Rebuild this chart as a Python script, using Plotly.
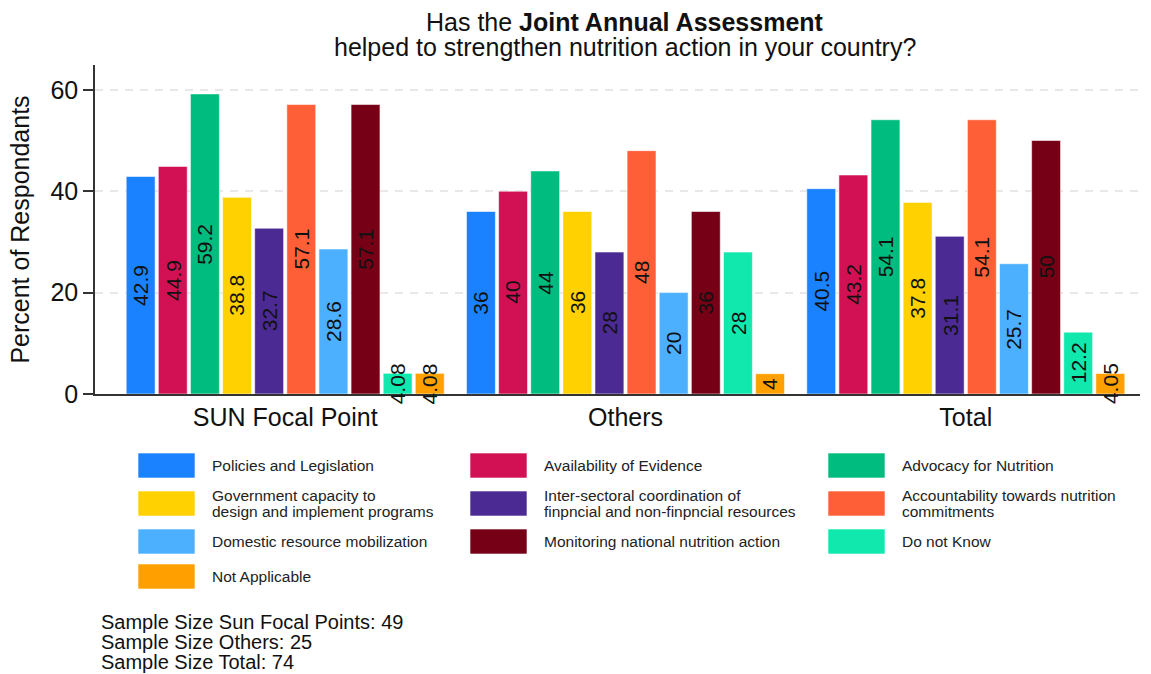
import plotly.graph_objects as go

groups = ["SUN Focal Point", "Others", "Total"]
series = [
    ["Policies and Legislation"],
    ["Availability of Evidence"],
    ["Advocacy for Nutrition"],
    ["Government capacity to", "design and implement programs"],
    ["Inter-sectoral coordination of", "finpncial and non-finpncial resources"],
    ["Accountability towards nutrition", "commitments"],
    ["Domestic resource mobilization"],
    ["Monitoring national nutrition action"],
    ["Do not Know"],
    ["Not Applicable"],
]
colors = ["#1a82ff", "#d21155", "#00bc7e", "#ffd100", "#4c2a93",
          "#ff5f36", "#4cb0ff", "#760016", "#10e8ae", "#ffa000"]

policies = [42.9, 36, 40.5]
evidence = [44.9, 40, 43.2]
advocacy = [59.2, 44, 54.1]
gov_capacity = [38.8, 36, 37.8]
intersectoral = [32.7, 28, 31.1]
accountability = [57.1, 48, 54.1]
domestic = [28.6, 20, 25.7]
monitoring = [57.1, 36, 50]
do_not_know = [4.08, 28, 12.2]
not_applicable = [4.08, 4, 4.05]
values = [policies, evidence, advocacy, gov_capacity, intersectoral,
          accountability, domestic, monitoring, do_not_know, not_applicable]

sample_sizes = [("Sun Focal Points", 49), ("Others", 25), ("Total", 74)]

title_lines = ["Has the <b>Joint Annual Assessment</b>",
               "helped to strengthen nutrition action in your country?"]

BARGAP = 0.056
BARGROUPGAP = 0.1
n = len(series)
slot = (1 - BARGAP) / n

W, H = 1151, 674
L, R, T, B = 95, 11, 65, 280
PW, PH = W - L - R, H - T - B


def px(x):
    return (x - L) / PW


def py(y):
    return (H - B - y) / PH


fig = go.Figure()
gx = list(range(len(groups)))
for i, (name, vals, col) in enumerate(zip(series, values, colors)):
    fig.add_trace(go.Bar(
        x=gx, y=vals, name=" ".join(name),
        marker=dict(color=col, line=dict(color="rgba(255,255,255,0.55)", width=1)),
        showlegend=False,
    ))
    off = -(1 - BARGAP) / 2 + (i + 0.5) * slot
    for g, v in zip(gx, vals):
        fig.add_annotation(
            x=g + off, y=v / 2, xref="x", yref="y",
            text=f"{v:g}", textangle=-90, showarrow=False,
            font=dict(size=21, color="#111"),
        )

# three-column key below the plot
col_x = [138, 470, 828]
row_y = [453, 491, 529, 564]
for i, (lines, col) in enumerate(zip(series, colors)):
    r, c = divmod(i, 3)
    x0, y0 = col_x[c], row_y[r]
    fig.add_shape(type="rect", xref="paper", yref="paper",
                  x0=px(x0), x1=px(x0 + 57), y0=py(y0 + 25), y1=py(y0),
                  fillcolor=col, line=dict(color="rgba(255,255,255,0.6)", width=1))
    yc = y0 + 12.5
    offsets = [0] if len(lines) == 1 else [-8, 8]
    for line, dy in zip(lines, offsets):
        fig.add_annotation(xref="paper", yref="paper",
                           x=px(x0 + 72), y=py(yc + dy),
                           xanchor="left", yanchor="middle", align="left",
                           text=line, showarrow=False,
                           font=dict(size=15.5, color="#222"))

for k, (lab, nval) in enumerate(sample_sizes):
    fig.add_annotation(xref="paper", yref="paper",
                       x=px(99), y=py(622 + 20 * k),
                       xanchor="left", yanchor="middle", showarrow=False,
                       text=f"Sample Size {lab}: {nval}",
                       font=dict(size=20, color="#111"))

for k, line in enumerate(title_lines):
    fig.add_annotation(xref="paper", yref="paper",
                       x=px(625), y=py(22 + 25 * k),
                       xanchor="center", yanchor="middle", showarrow=False,
                       text=line, font=dict(size=25, color="#111"))

fig.update_layout(
    width=W, height=H,
    margin=dict(l=L, r=R, t=T, b=B),
    paper_bgcolor="white", plot_bgcolor="white",
    barmode="group", bargap=BARGAP, bargroupgap=BARGROUPGAP,
    font=dict(family="Liberation Sans, Arial, sans-serif", color="#111"),
    xaxis=dict(
        tickmode="array", tickvals=gx, ticktext=groups,
        range=[-0.559, 2.512], showline=True, linecolor="#333", linewidth=1.5,
        ticks="", tickfont=dict(size=25), showgrid=False, zeroline=False,
    ),
    yaxis=dict(
        range=[0, 64.9], tickvals=[0, 20, 40, 60],
        showline=True, linecolor="#333", linewidth=1.5,
        ticks="outside", ticklen=10, tickwidth=1.5, tickcolor="#333",
        tickfont=dict(size=25),
        showgrid=True, gridcolor="#e8e8e8", gridwidth=2, griddash="8px,7px",
        zeroline=False,
        title=dict(text="Percent of Respondants", font=dict(size=25), standoff=14),
    ),
)

fig.write_html("out.html")
